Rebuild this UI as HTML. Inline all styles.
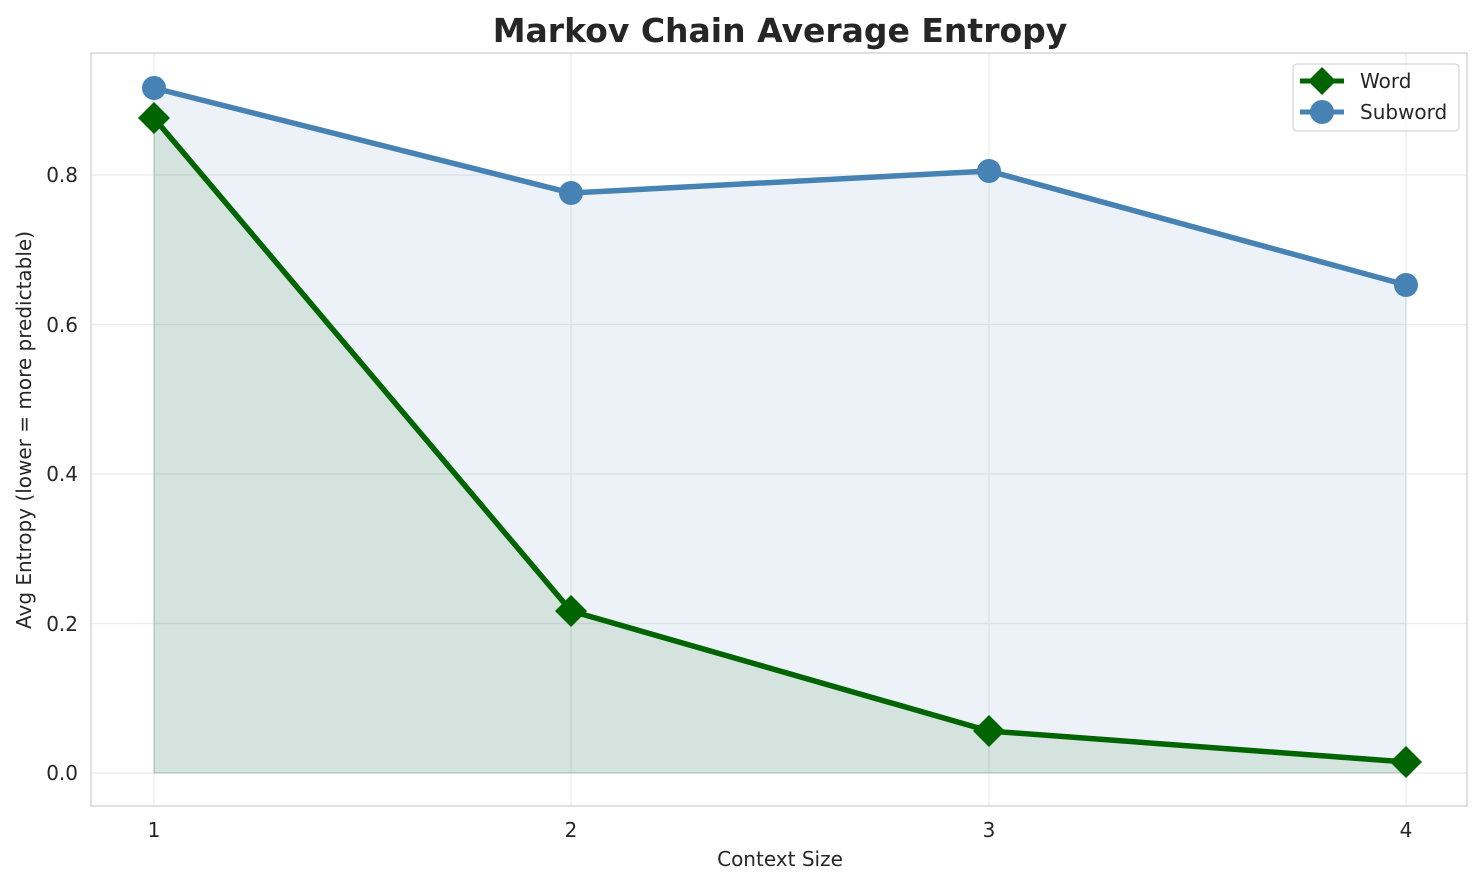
<!DOCTYPE html>
<html><head><meta charset="utf-8"><style>
body{margin:0;background:#fff;}
svg text{font-family:"DejaVu Sans","Liberation Sans",sans-serif;fill:#262626;}
</style></head><body>
<svg width="1484" height="885" xmlns="http://www.w3.org/2000/svg">
<rect width="1484" height="885" fill="#fff"/>
<g stroke="#ebebeb" stroke-width="1.2">
<line x1="154" y1="53" x2="154" y2="806"/><line x1="571" y1="53" x2="571" y2="806"/>
<line x1="989" y1="53" x2="989" y2="806"/><line x1="1406" y1="53" x2="1406" y2="806"/>
<line x1="91" y1="773" x2="1467" y2="773"/><line x1="91" y1="623.5" x2="1467" y2="623.5"/>
<line x1="91" y1="474" x2="1467" y2="474"/><line x1="91" y1="324.5" x2="1467" y2="324.5"/>
<line x1="91" y1="175" x2="1467" y2="175"/>
</g>
<polygon points="154,88 571,193 989,171 1406,285 1406,773 154,773" fill="#4682b4" fill-opacity="0.1" stroke="#4682b4" stroke-opacity="0.15"/>
<polygon points="154,118 571,611 989,731 1406,762 1406,773 154,773" fill="#006400" fill-opacity="0.1" stroke="#006400" stroke-opacity="0.15"/>
<rect x="91" y="53" width="1376" height="753" fill="none" stroke="#cccccc" stroke-width="1.2"/>
<polyline points="154,88 571,193 989,171 1406,285" fill="none" stroke="#4682b4" stroke-width="5.5"/>
<g fill="#4682b4"><circle cx="154" cy="88" r="12"/><circle cx="571" cy="193" r="12"/><circle cx="989" cy="171" r="12"/><circle cx="1406" cy="285" r="12"/></g>
<polyline points="154,118 571,611 989,731 1406,762" fill="none" stroke="#006400" stroke-width="5.5"/>
<g fill="#006400">
<polygon points="154,102 170,118 154,134 138,118"/><polygon points="571,595 587,611 571,627 555,611"/>
<polygon points="989,715 1005,731 989,747 973,731"/><polygon points="1406,746 1422,762 1406,778 1390,762"/></g>
<g font-size="20" text-anchor="end">
<text x="78" y="780">0.0</text><text x="78" y="631">0.2</text><text x="78" y="481">0.4</text>
<text x="78" y="332">0.6</text><text x="78" y="182">0.8</text></g>
<g font-size="20" text-anchor="middle">
<text x="154" y="837">1</text><text x="571" y="837">2</text><text x="989" y="837">3</text><text x="1406" y="837">4</text>
<text x="780" y="866">Context Size</text></g>
<text transform="translate(31,430) rotate(-90)" font-size="20" text-anchor="middle">Avg Entropy (lower = more predictable)</text>
<text x="780" y="42" font-size="33" font-weight="bold" text-anchor="middle">Markov Chain Average Entropy</text>
<rect x="1293" y="64" width="166" height="67" rx="4" fill="#fff" fill-opacity="0.8" stroke="#cccccc"/>
<line x1="1300" y1="81" x2="1344" y2="81" stroke="#006400" stroke-width="5"/>
<polygon points="1322,67 1336,81 1322,95 1308,81" fill="#006400"/>
<text x="1360" y="88" font-size="20">Word</text>
<line x1="1300" y1="112" x2="1344" y2="112" stroke="#4682b4" stroke-width="5"/>
<circle cx="1322" cy="112" r="12" fill="#4682b4"/>
<text x="1360" y="119" font-size="20">Subword</text>
</svg>
</body></html>
